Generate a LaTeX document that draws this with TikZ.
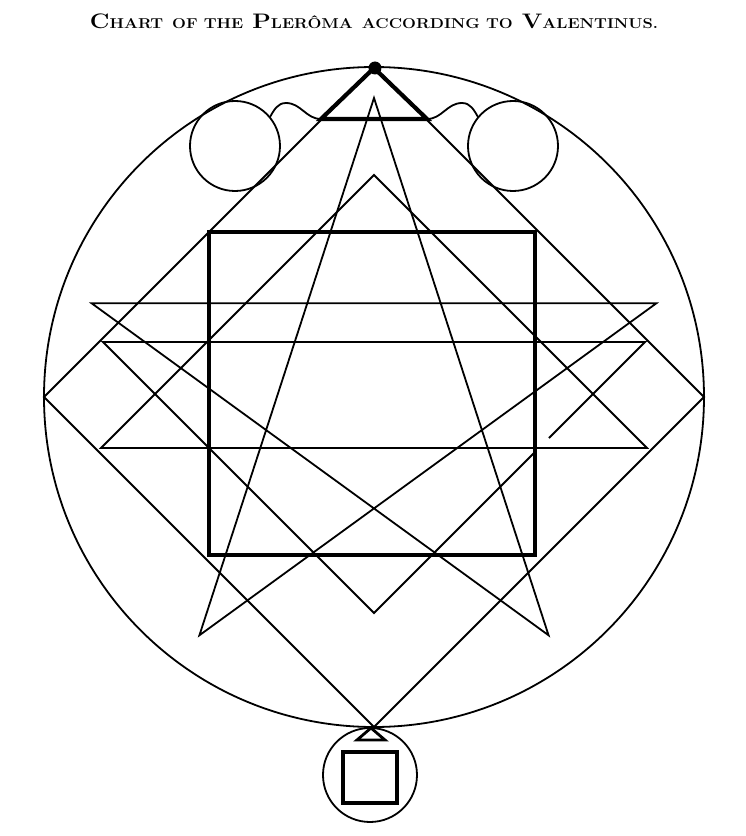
\documentclass[tikz,border=0pt]{standalone}

% small capitals made by hand: first letter large, the rest small
\newcommand{\smallpart}[1]{{\fontsize{14.3}{15}\selectfont #1}}
\newcommand{\capword}[2]{#1\smallpart{#2}}

\begin{document}
\begin{tikzpicture}[x=1pt,y=1pt,
    fine/.style={line width=1.8pt},
    heavy/.style={line width=4.2pt,line join=miter}]

    \def\R{330}	 %radius of the great circle
    \def\Rp{297} %radius of the pentagram
    \def\r{45}	 %radius of the two upper circles

    \useasboundingbox (-374,-439) rectangle (372,397);

    %TITLE
    \node[anchor=base,inner sep=0pt] (title) at (0,368)
        {\scalebox{1.15}[1]{\fontsize{21}{23}\selectfont\bfseries
        \capword{C}{HART} \smallpart{OF THE} \capword{P}{LER\^OMA}
        \smallpart{ACCORDING TO} \capword{V}{ALENTINUS.}}};

    %GREAT CIRCLE AND DIAMOND
    \draw[fine] (0,0) circle (\R);
    \draw[fine] (0,\R)--(\R,0)--(0,-\R)--(-\R,0)--cycle;

    %PENTAGRAM
    \foreach \i in {0,...,4}{
        \path (0,2) ++({90+72*\i}:\Rp) coordinate (p\i);
    }
    \draw[fine] (p0)--(p2)--(p4)--(p1)--(p3)--cycle;

    %the two right-angled triangles
    \draw[fine] (0,222)--(273,-51)--(-273,-51)--cycle;	%upright
    \draw[fine] (175,-41)--(271,55)--(-271,55)--(0,-216)--(161,-55); %inverted, broken edge

    %SQUARE
    \draw[heavy] (-165,165) rectangle (161,-158);

    %TOP: triangle, dot and the two circles
    \draw[heavy] (0,329)--(-53,278)--(53,278)--cycle;
    \fill (1,329) circle (6.5);
    \foreach \s in {-1,1}{
        \draw[fine] (\s*139,251) circle (\r);
    }
    \draw[fine] (-104,280) to[out=60,in=180] (-88,294) to[out=0,in=180] (-53,278);
    \draw[fine] (53,278) to[out=0,in=180] (88,294) to[out=0,in=120] (104,280);

    %BOTTOM: triangle, circle and square
    \draw[line width=2.8pt] (-3,-331)--(11,-343)--(-17,-343)--cycle;
    \draw[fine] (-4,-378) circle (47);
    \draw[heavy] (-31,-355) rectangle (23,-406);

\end{tikzpicture}
\end{document}
